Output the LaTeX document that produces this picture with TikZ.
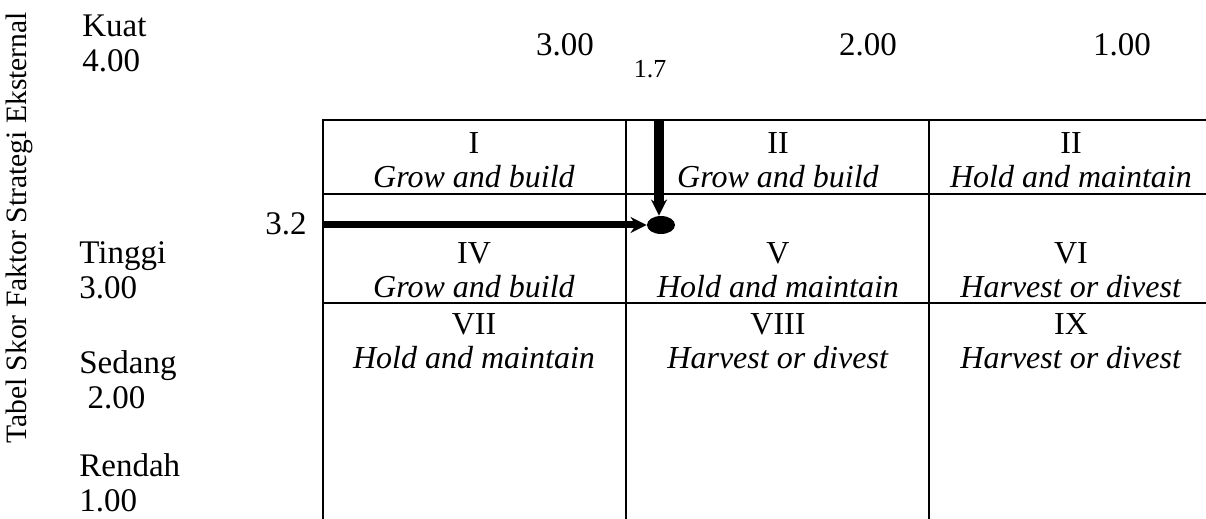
\documentclass[tikz,border=0pt]{standalone}
\usepackage{fontspec}
\setmainfont{Liberation Serif}
\usetikzlibrary{arrows.meta}
\usetikzlibrary{positioning}
\usetikzlibrary{shapes.geometric}

\tikzset{
  cell/.style={align=center, inner sep=0pt, font=\fontsize{16}{17}\selectfont},
  lbl/.style={align=left, anchor=west, inner sep=0pt, font=\fontsize{16.5}{17.5}\selectfont},
  score/.style={inner sep=0pt, font=\fontsize{16.5}{17}\selectfont},
  gridline/.style={line width=1pt},
  pointer/.style={-{Stealth[length=8pt,width=8pt]}},
}

\begin{document}
\begin{tikzpicture}[x=0.5pt,y=-0.5pt]
  \useasboundingbox (0,0) rectangle (1206,519);

  % kisi matriks IE
  \draw[gridline] (323,519) -- (323,120) -- (1206,120);
  \draw[gridline] (626,120) -- (626,519);
  \draw[gridline] (929,120) -- (929,519);
  \draw[gridline] (323,194) -- (1206,194);
  \draw[gridline] (323,303) -- (1206,303);

  % isi sel
  \node (c11) [cell] at (474,160) {I\\\textit{Grow and build}};
  \node (c12) [cell] at (778,160) {II\\\textit{Grow and build}};
  \node (c13) [cell] at (1071,160) {II\\\textit{Hold and maintain}};
  \node (c21) [cell] at (474,270) {IV\\\textit{Grow and build}};
  \node (c22) [cell] at (778,270) {V\\\textit{Hold and maintain}};
  \node (c23) [cell] at (1071,270) {VI\\\textit{Harvest or divest}};
  \node (c31) [cell] at (474,341) {VII\\\textit{Hold and maintain}};
  \node (c32) [cell] at (778,341) {VIII\\\textit{Harvest or divest}};
  \node (c33) [cell] at (1071,341) {IX\\\textit{Harvest or divest}};

  % sumbu kiri
  \node (judul) [score, rotate=90, font=\fontsize{14.8}{16}\selectfont] at (19,228) {Tabel Skor Faktor Strategi Eksternal};
  \node (kuat) [lbl] at (82,43) {Kuat\\4.00};
  \node (tinggi) [lbl] at (79,270) {Tinggi\\3.00};
  \node (sedang) [lbl] at (79,380) {Sedang\\\ 2.00};
  \node (rendah) [lbl] at (79,483) {Rendah\\1.00};

  % skor atas
  \node (s3) [score] at (565,45) {3.00};
  \node (s2) [score] at (868,45) {2.00};
  \node (s1) [score] at (1122,45) {1.00};
  \node (ifas) [score, font=\fontsize{13}{14}\selectfont] at (650,69) {1.7};
  \node (efas) [score] at (286,224) {3.2};

  % titik posisi
  \coordinate (atas) at (659,120);
  \coordinate (kiri) at (323,225);
  \node (titik) [ellipse, fill, minimum width=14pt, minimum height=9pt, inner sep=0pt] at (661,225) {};
  \draw[pointer, line width=5pt] (atas) -- (atas |- titik.north);
  \draw[pointer, line width=3.5pt] (kiri) -- (titik.west);

\end{tikzpicture}
\end{document}
